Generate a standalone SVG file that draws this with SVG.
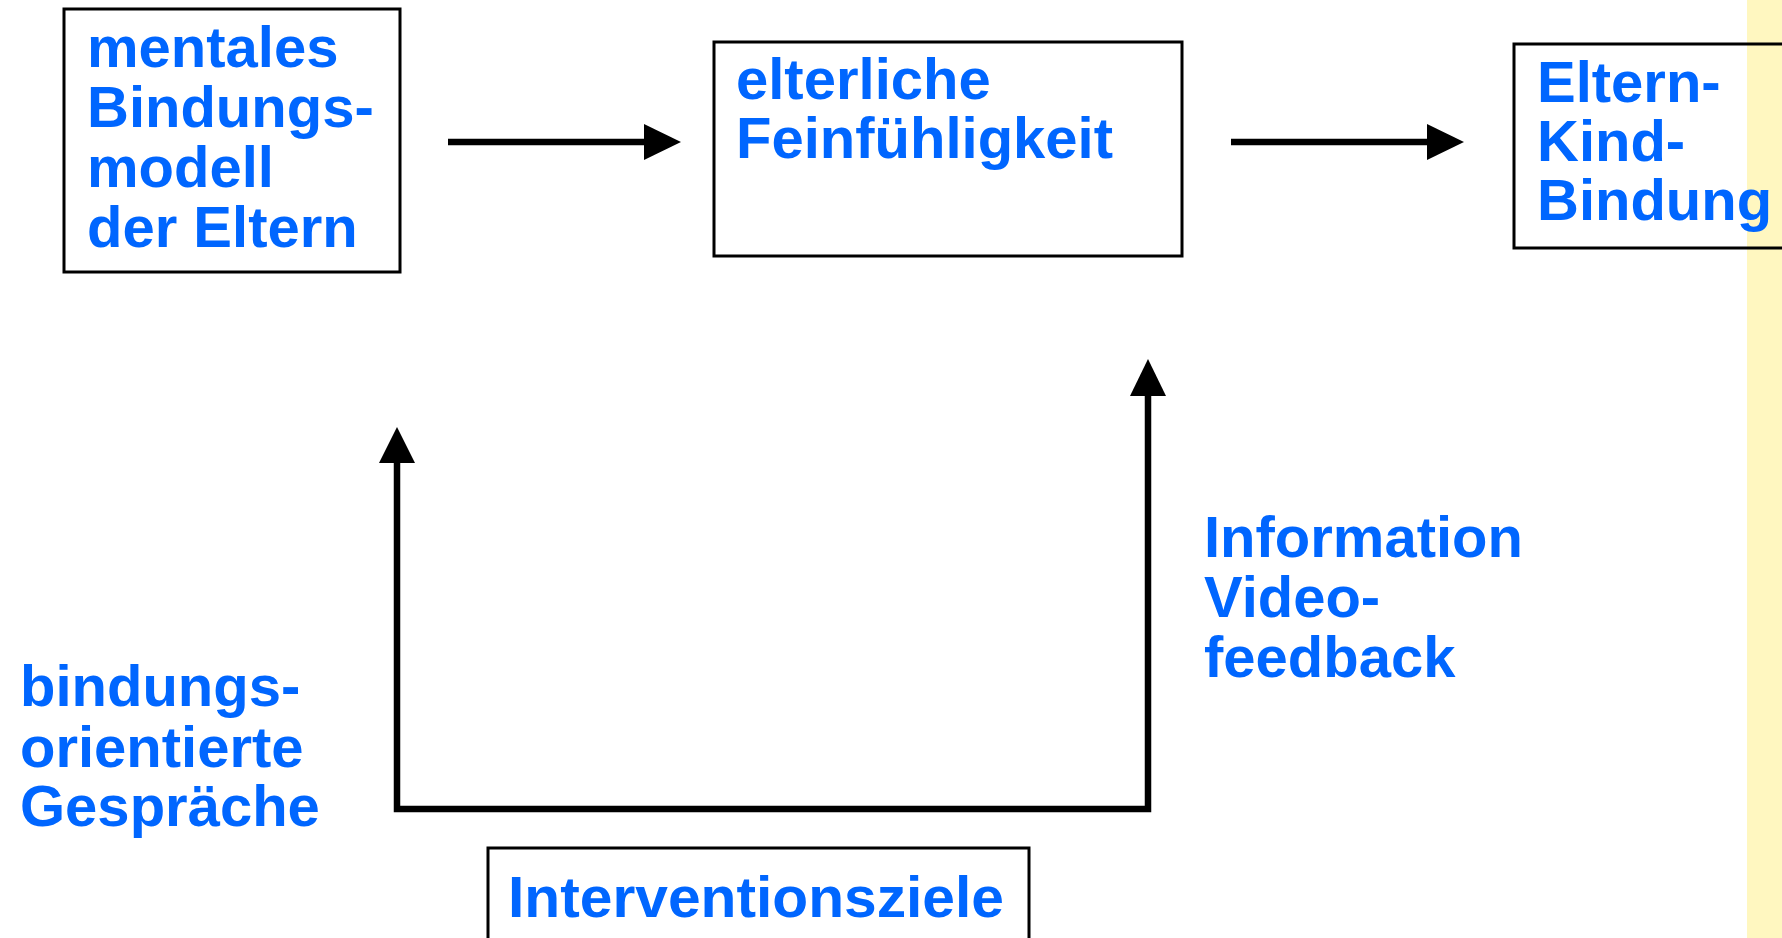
<svg xmlns="http://www.w3.org/2000/svg" width="1782" height="938" viewBox="0 0 1782 938">
<style>
.box{fill:none;stroke:#000;stroke-width:3}
.lbl{font-family:"Liberation Sans",Arial,sans-serif;font-weight:bold;font-size:58px;fill:#0066FF}
.conn{stroke:#000;stroke-width:6.5;fill:none}
.head{fill:#000}
</style>
<rect x="0" y="0" width="1782" height="938" fill="#fff"/>
<rect x="1747" y="0" width="35" height="938" fill="#FFF7C0"/>
<g id="node-mentales">
<rect class="box" x="64" y="9" width="336" height="263"/>
<text class="lbl" x="87" y="67">mentales</text>
<text class="lbl" x="87" y="127">Bindungs-</text>
<text class="lbl" x="87" y="187">modell</text>
<text class="lbl" x="87" y="247">der Eltern</text>
</g>
<g id="node-feinfuehligkeit">
<rect class="box" x="714" y="42" width="468" height="214"/>
<text class="lbl" x="736" y="99">elterliche</text>
<text class="lbl" x="736" y="158">Feinfühligkeit</text>
</g>
<g id="node-bindung">
<rect class="box" x="1514" y="44" width="280" height="204"/>
<text class="lbl" x="1537" y="102">Eltern-</text>
<text class="lbl" x="1537" y="161">Kind-</text>
<text class="lbl" x="1537" y="220">Bindung</text>
</g>
<g id="node-interventionsziele">
<rect class="box" x="488" y="848" width="541" height="100"/>
<text class="lbl" x="508" y="917" textLength="496" lengthAdjust="spacingAndGlyphs">Interventionsziele</text>
</g>
<g id="label-gespraeche">
<text class="lbl" x="20" y="706">bindungs-</text>
<text class="lbl" x="20" y="767">orientierte</text>
<text class="lbl" x="20" y="826">Gespräche</text>
</g>
<g id="label-information">
<text class="lbl" x="1204" y="557">Information</text>
<text class="lbl" x="1204" y="617">Video-</text>
<text class="lbl" x="1204" y="677">feedback</text>
</g>
<g id="connectors">
<line class="conn" x1="448" y1="142" x2="646" y2="142"/>
<polygon class="head" points="644,124 681,142 644,160"/>
<line class="conn" x1="1231" y1="142" x2="1429" y2="142"/>
<polygon class="head" points="1427,124 1464,142 1427,160"/>
<polyline class="conn" points="397,462 397,809 1148,809 1148,394"/>
<polygon class="head" points="379,463 397,427 415,463"/>
<polygon class="head" points="1130,396 1148,359 1166,396"/>
</g>
</svg>
